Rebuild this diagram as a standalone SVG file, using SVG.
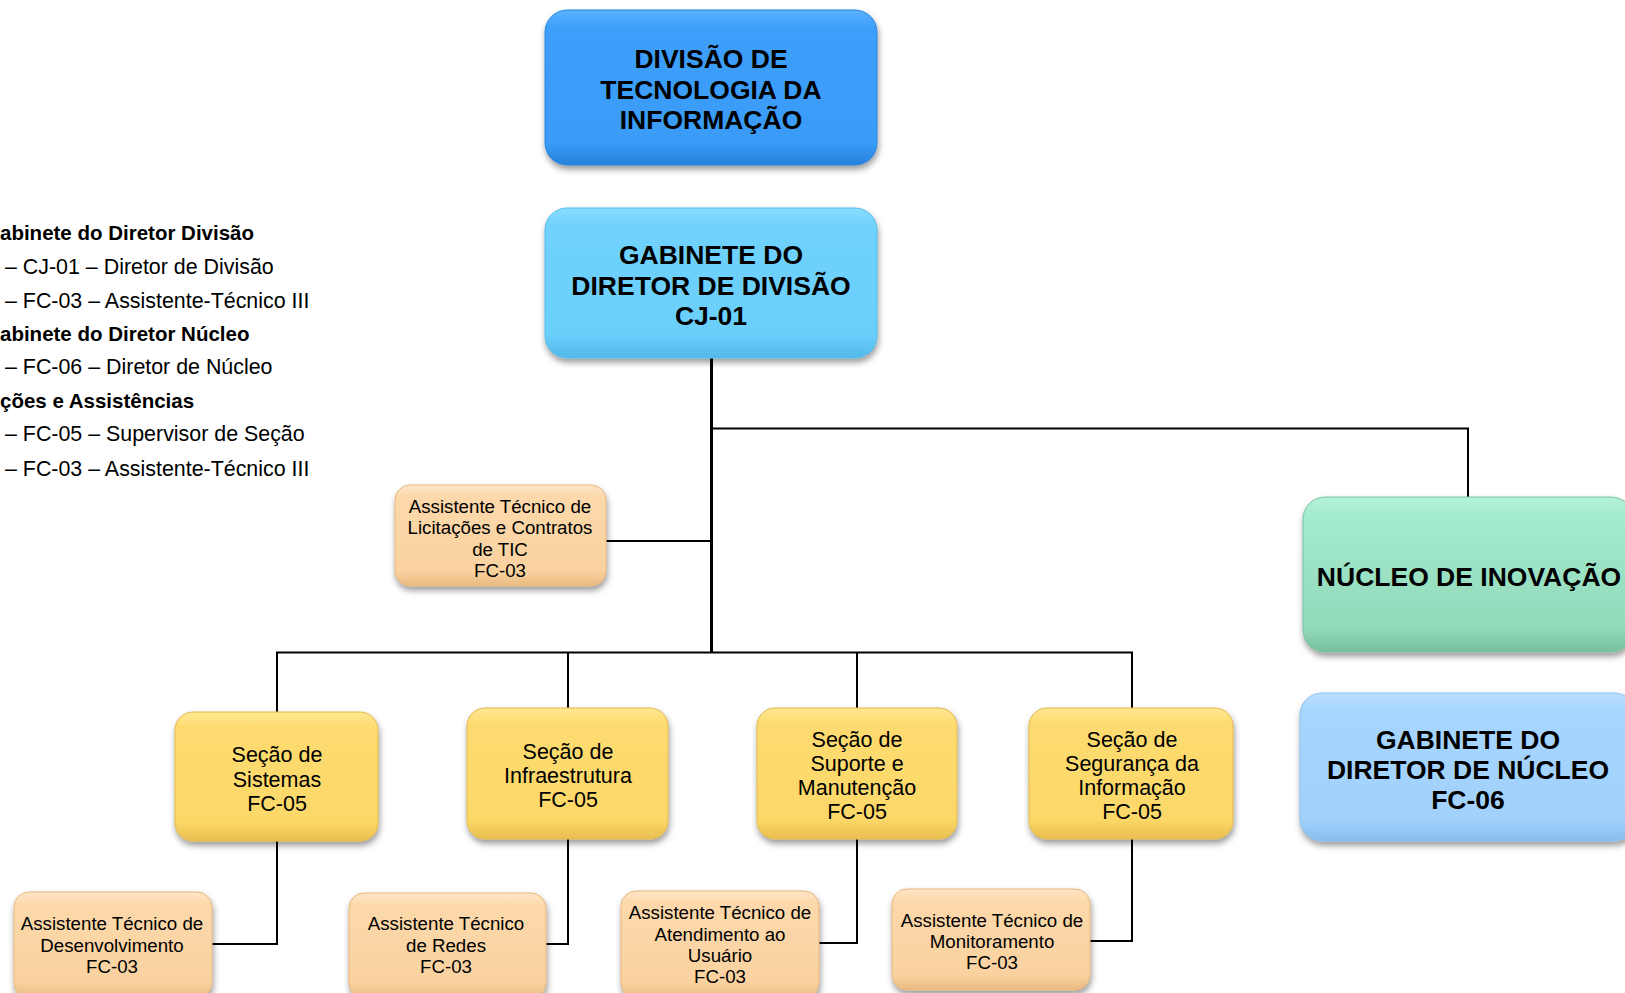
<svg xmlns="http://www.w3.org/2000/svg" width="1625" height="993" viewBox="0 0 1625 993">
<defs>
  <filter id="sh" x="-10%" y="-10%" width="125%" height="135%">
    <feDropShadow dx="1" dy="4" stdDeviation="3" flood-color="#000" flood-opacity="0.4"/>
  </filter>
  <linearGradient id="gDiv" x1="0" y1="0" x2="0" y2="1">
    <stop offset="0" stop-color="#5AB2FF"/><stop offset="0.12" stop-color="#3D9FFA"/><stop offset="0.85" stop-color="#3A9CF7"/><stop offset="1" stop-color="#2782DC"/>
  </linearGradient>
  <linearGradient id="gGabDiv" x1="0" y1="0" x2="0" y2="1">
    <stop offset="0" stop-color="#8ADDFF"/><stop offset="0.12" stop-color="#6FD2FD"/><stop offset="0.85" stop-color="#6BCFFB"/><stop offset="1" stop-color="#52B8E8"/>
  </linearGradient>
  <linearGradient id="gNuc" x1="0" y1="0" x2="0" y2="1">
    <stop offset="0" stop-color="#B4F2DA"/><stop offset="0.12" stop-color="#A4EBCF"/><stop offset="0.85" stop-color="#92D9BA"/><stop offset="1" stop-color="#76BE9E"/>
  </linearGradient>
  <linearGradient id="gGabNuc" x1="0" y1="0" x2="0" y2="1">
    <stop offset="0" stop-color="#BCE0FF"/><stop offset="0.12" stop-color="#A6D5FE"/><stop offset="0.85" stop-color="#A2D2FC"/><stop offset="1" stop-color="#86BCEC"/>
  </linearGradient>
  <linearGradient id="gSec" x1="0" y1="0" x2="0" y2="1">
    <stop offset="0" stop-color="#FFE893"/><stop offset="0.12" stop-color="#FEDB70"/><stop offset="0.85" stop-color="#FBD868"/><stop offset="1" stop-color="#E9BE4F"/>
  </linearGradient>
  <linearGradient id="gAss" x1="0" y1="0" x2="0" y2="1">
    <stop offset="0" stop-color="#FFE6C6"/><stop offset="0.12" stop-color="#FCD8AA"/><stop offset="0.85" stop-color="#FAD2A0"/><stop offset="1" stop-color="#E9BA80"/>
  </linearGradient>
  <style>
    .big { font-family: "Liberation Sans", Arial, sans-serif; font-weight: bold; font-size: 26.5px; fill: #000; text-anchor: middle; }
    .sec { font-family: "Liberation Sans", Arial, sans-serif; font-size: 21.5px; fill: #000; text-anchor: middle; }
    .ass { font-family: "Liberation Sans", Arial, sans-serif; font-size: 18.7px; fill: #000; text-anchor: middle; }
    .leg { font-family: "Liberation Sans", Arial, sans-serif; font-size: 21.4px; fill: #000; }
    .legb { font-family: "Liberation Sans", Arial, sans-serif; font-size: 20.5px; font-weight: bold; fill: #000; }
    .box { filter: url(#sh); stroke-width: 1; }
    .ln { fill: none; stroke: #000; stroke-width: 2; }
    .ln3 { fill: none; stroke: #000; stroke-width: 3; }
  </style>
</defs>
<rect width="1625" height="993" fill="#fff"/>

<g id="legend">
  <text class="legb" x="0" y="240">abinete do Diretor Divisão</text>
  <text class="leg" x="5" y="273.5">– CJ-01 – Diretor de Divisão</text>
  <text class="leg" x="5" y="307.5">– FC-03 – Assistente-Técnico III</text>
  <text class="legb" x="0" y="341">abinete do Diretor Núcleo</text>
  <text class="leg" x="5" y="374">– FC-06 – Diretor de Núcleo</text>
  <text class="legb" x="0" y="408">ções e Assistências</text>
  <text class="leg" x="5" y="441">– FC-05 – Supervisor de Seção</text>
  <text class="leg" x="5" y="475.5">– FC-03 – Assistente-Técnico III</text>
</g>

<g id="connectors">
  <path class="ln3" d="M711.5 358 V652"/>
  <path class="ln" d="M711.5 428.5 H1468 V497"/>
  <path class="ln" d="M606 541 H711.5"/>
  <path class="ln" d="M277 712 V652.5 H1132 V708"/>
  <path class="ln" d="M568 652.5 V708"/>
  <path class="ln" d="M857 652.5 V708"/>
  <path class="ln" d="M277 841 V944 H212"/>
  <path class="ln" d="M568 839 V944 H546"/>
  <path class="ln" d="M857 839 V943 H819"/>
  <path class="ln" d="M1132 839 V941 H1090"/>
</g>

<g id="divisao">
  <rect class="box" x="545" y="10" width="332" height="155" rx="22" fill="url(#gDiv)" stroke="#2A86E0"/>
  <text class="big" x="711" y="67.5">DIVISÃO DE</text>
  <text class="big" x="711" y="98.5">TECNOLOGIA DA</text>
  <text class="big" x="711" y="128.5">INFORMAÇÃO</text>
</g>

<g id="gabinete-divisao">
  <rect class="box" x="545" y="208" width="332" height="150" rx="22" fill="url(#gGabDiv)" stroke="#55BBEA"/>
  <text class="big" x="711" y="264">GABINETE DO</text>
  <text class="big" x="711" y="294.5">DIRETOR DE DIVISÃO</text>
  <text class="big" x="711" y="325">CJ-01</text>
</g>

<g id="licitacoes">
  <rect class="box" x="395" y="485" width="211" height="101" rx="15" fill="url(#gAss)" stroke="#E5B77E"/>
  <text class="ass" x="500" y="513">Assistente Técnico de</text>
  <text class="ass" x="500" y="534">Licitações e Contratos</text>
  <text class="ass" x="500" y="555.5">de TIC</text>
  <text class="ass" x="500" y="577">FC-03</text>
</g>

<g id="nucleo">
  <rect class="box" x="1303" y="497" width="330" height="155" rx="22" fill="url(#gNuc)" stroke="#7AC2A2"/>
  <text class="big" x="1469" y="585.5">NÚCLEO DE INOVAÇÃO</text>
</g>

<g id="gabinete-nucleo">
  <rect class="box" x="1300" y="693" width="336" height="148" rx="22" fill="url(#gGabNuc)" stroke="#88BEEE"/>
  <text class="big" x="1468" y="748.5">GABINETE DO</text>
  <text class="big" x="1468" y="778.5">DIRETOR DE NÚCLEO</text>
  <text class="big" x="1468" y="809">FC-06</text>
</g>

<g id="secao-sistemas">
  <rect class="box" x="175" y="712" width="203" height="129" rx="18" fill="url(#gSec)" stroke="#E3B84D"/>
  <text class="sec" x="277" y="762">Seção de</text>
  <text class="sec" x="277" y="786.5">Sistemas</text>
  <text class="sec" x="277" y="810.5">FC-05</text>
</g>

<g id="secao-infra">
  <rect class="box" x="467" y="708" width="201" height="131" rx="18" fill="url(#gSec)" stroke="#E3B84D"/>
  <text class="sec" x="568" y="759">Seção de</text>
  <text class="sec" x="568" y="783">Infraestrutura</text>
  <text class="sec" x="568" y="807">FC-05</text>
</g>

<g id="secao-suporte">
  <rect class="box" x="757" y="708" width="200" height="131" rx="18" fill="url(#gSec)" stroke="#E3B84D"/>
  <text class="sec" x="857" y="747">Seção de</text>
  <text class="sec" x="857" y="771">Suporte e</text>
  <text class="sec" x="857" y="794.5">Manutenção</text>
  <text class="sec" x="857" y="819">FC-05</text>
</g>

<g id="secao-seguranca">
  <rect class="box" x="1029" y="708" width="204" height="131" rx="18" fill="url(#gSec)" stroke="#E3B84D"/>
  <text class="sec" x="1132" y="747">Seção de</text>
  <text class="sec" x="1132" y="771">Segurança da</text>
  <text class="sec" x="1132" y="794.5">Informação</text>
  <text class="sec" x="1132" y="819">FC-05</text>
</g>

<g id="ass-desenvolvimento">
  <rect class="box" x="14" y="892" width="198" height="106" rx="15" fill="url(#gAss)" stroke="#E5B77E"/>
  <text class="ass" x="112" y="930">Assistente Técnico de</text>
  <text class="ass" x="112" y="951.5">Desenvolvimento</text>
  <text class="ass" x="112" y="973">FC-03</text>
</g>

<g id="ass-redes">
  <rect class="box" x="349" y="893" width="197" height="105" rx="15" fill="url(#gAss)" stroke="#E5B77E"/>
  <text class="ass" x="446" y="930">Assistente Técnico</text>
  <text class="ass" x="446" y="951.5">de Redes</text>
  <text class="ass" x="446" y="973">FC-03</text>
</g>

<g id="ass-atendimento">
  <rect class="box" x="621" y="891" width="198" height="107" rx="15" fill="url(#gAss)" stroke="#E5B77E"/>
  <text class="ass" x="720" y="919">Assistente Técnico de</text>
  <text class="ass" x="720" y="940.5">Atendimento ao</text>
  <text class="ass" x="720" y="961.5">Usuário</text>
  <text class="ass" x="720" y="982.5">FC-03</text>
</g>

<g id="ass-monitoramento">
  <rect class="box" x="892" y="889" width="198" height="101" rx="15" fill="url(#gAss)" stroke="#E5B77E"/>
  <text class="ass" x="992" y="927">Assistente Técnico de</text>
  <text class="ass" x="992" y="948">Monitoramento</text>
  <text class="ass" x="992" y="968.5">FC-03</text>
</g>
</svg>
